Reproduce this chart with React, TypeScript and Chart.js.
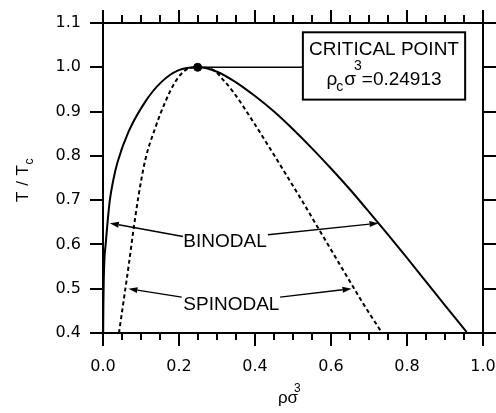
import React, { useEffect, useRef } from 'react';
import { Chart, registerables } from 'chart.js';

Chart.register(...registerables);

// ---- data ----
const binodalRho = [0.0005, 0.001, 0.002, 0.004, 0.007, 0.012, 0.018, 0.027, 0.038, 0.067, 0.111, 0.154, 0.198, 0.24913, 0.30, 0.35, 0.40, 0.45, 0.50, 0.55, 0.60, 0.65, 0.70, 0.75, 0.80, 0.85, 0.90, 0.957];
const binodalT = [0.400, 0.460, 0.520, 0.570, 0.600, 0.650, 0.700, 0.745, 0.785, 0.854, 0.922, 0.967, 0.993, 1.000, 0.990, 0.966, 0.935, 0.900, 0.860, 0.817, 0.7715, 0.724, 0.6735, 0.622, 0.5695, 0.516, 0.4624, 0.402];

const spinodalRho = [0.042, 0.057, 0.068, 0.080, 0.093, 0.111, 0.137, 0.164, 0.190, 0.216, 0.24913, 0.292, 0.317, 0.343, 0.396, 0.440, 0.483, 0.527, 0.580, 0.632, 0.685, 0.733];
const spinodalT = [0.400, 0.489, 0.555, 0.632, 0.707, 0.790, 0.862, 0.922, 0.967, 0.993, 1.000, 0.993, 0.971, 0.944, 0.876, 0.816, 0.756, 0.694, 0.617, 0.542, 0.466, 0.402];

const criticalRho = [0.24913];
const criticalT = [1.0];

const xMajorTicks = [0.0, 0.2, 0.4, 0.6, 0.8, 1.0];
const xMinorTicks = [0.05, 0.1, 0.15, 0.25, 0.3, 0.35, 0.45, 0.5, 0.55, 0.65, 0.7, 0.75, 0.85, 0.9, 0.95];
const yMajorTicks = [0.4, 0.5, 0.6, 0.7, 0.8, 0.9, 1.0, 1.1];

const boxLines = ['CRITICAL POINT', '0.24913'];

// ---- annotation placement (data coordinates) ----
const BOX = { x0: 0.526, x1: 0.953, yTop: 1.079, yBot: 0.927 };
const ARROWS = [
  { from: [0.2105, 0.618], to: [0.018, 0.648] },
  { from: [0.434, 0.622], to: [0.725, 0.648] },
  { from: [0.207, 0.481], to: [0.067, 0.500] },
  { from: [0.466, 0.481], to: [0.654, 0.500] },
];
const LABELS = [
  { text: 'BINODAL', x: 0.2113, y: 0.594 },
  { text: 'SPINODAL', x: 0.2113, y: 0.453 },
];

const SANS = '"Liberation Sans", Arial, Helvetica, sans-serif';
const TICKFONT = '"DejaVu Sans", sans-serif';

const toXY = (xs: number[], ys: number[]) => xs.map((x, i) => ({ x, y: ys[i] }));

const noPad = (s: any) => {
  s.paddingLeft = 0;
  s.paddingRight = 0;
  s.paddingTop = 0;
  s.paddingBottom = 0;
};

const decorPlugin = {
  id: 'decor',
  afterDraw(chart: any) {
    const ctx = chart.ctx as CanvasRenderingContext2D;
    const xs = chart.scales.x;
    const ys = chart.scales.y;
    const area = chart.chartArea;
    ctx.save();
    ctx.strokeStyle = '#000';
    ctx.fillStyle = '#000';

    // minor ticks on x axes
    ctx.lineWidth = 2;
    for (const v of xMinorTicks) {
      const px = Math.round(xs.getPixelForValue(v));
      ctx.beginPath();
      ctx.moveTo(px, area.bottom);
      ctx.lineTo(px, area.bottom + 7);
      ctx.moveTo(px, area.top);
      ctx.lineTo(px, area.top - 8);
      ctx.stroke();
    }

    // connector from critical point to box
    const bx0 = xs.getPixelForValue(BOX.x0);
    const bx1 = xs.getPixelForValue(BOX.x1);
    const by0 = ys.getPixelForValue(BOX.yTop);
    const by1 = ys.getPixelForValue(BOX.yBot);
    const cpx = xs.getPixelForValue(criticalRho[0]);
    const cpy = ys.getPixelForValue(criticalT[0]);
    ctx.lineWidth = 1.5;
    ctx.beginPath();
    ctx.moveTo(cpx, cpy);
    ctx.lineTo(bx0, cpy);
    ctx.stroke();

    // box
    ctx.fillStyle = '#fff';
    ctx.fillRect(bx0, by0, bx1 - bx0, by1 - by0);
    ctx.fillStyle = '#000';
    ctx.lineWidth = 2;
    ctx.strokeRect(bx0, by0, bx1 - bx0, by1 - by0);

    const cx = (bx0 + bx1) / 2;
    ctx.textBaseline = 'alphabetic';
    ctx.textAlign = 'center';
    ctx.font = `19px ${SANS}`;
    ctx.fillText(boxLines[0], cx, by0 + 23);

    // second line: rho_c sigma^3 = value
    ctx.textAlign = 'left';
    const big = `19px ${SANS}`;
    const small = `14px ${SANS}`;
    ctx.font = big;
    const wRho = ctx.measureText('ρ').width;
    const wSig = ctx.measureText('σ').width;
    const wVal = ctx.measureText('=' + boxLines[1]).width;
    ctx.font = small;
    const wC = ctx.measureText('c').width;
    const w3 = ctx.measureText('3').width;
    const total = wRho + wC + wSig + w3 - 2 + wVal;
    let x = cx - total / 2;
    const base = by0 + 53;
    ctx.font = big;
    ctx.fillText('ρ', x, base);
    x += wRho;
    ctx.font = small;
    ctx.fillText('c', x - 1, base + 6);
    x += wC;
    ctx.font = big;
    ctx.fillText('σ', x, base);
    x += wSig;
    ctx.font = small;
    ctx.fillText('3', x - 2, base - 15);
    x += w3 - 2;
    ctx.font = big;
    ctx.fillText('=' + boxLines[1], x, base);

    // arrows
    ctx.lineWidth = 1.4;
    for (const a of ARROWS) {
      const x0 = xs.getPixelForValue(a.from[0]);
      const y0 = ys.getPixelForValue(a.from[1]);
      const x1 = xs.getPixelForValue(a.to[0]);
      const y1 = ys.getPixelForValue(a.to[1]);
      const ang = Math.atan2(y1 - y0, x1 - x0);
      const L = 9, H = 3;
      const hx = x1 - L * Math.cos(ang);
      const hy = y1 - L * Math.sin(ang);
      ctx.beginPath();
      ctx.moveTo(x0, y0);
      ctx.lineTo(hx, hy);
      ctx.stroke();
      ctx.beginPath();
      ctx.moveTo(x1, y1);
      ctx.lineTo(hx + H * Math.sin(ang), hy - H * Math.cos(ang));
      ctx.lineTo(hx - H * Math.sin(ang), hy + H * Math.cos(ang));
      ctx.closePath();
      ctx.fill();
    }

    // labels
    ctx.font = `19px ${SANS}`;
    ctx.textAlign = 'left';
    ctx.textBaseline = 'alphabetic';
    for (const l of LABELS) {
      ctx.fillText(l.text, xs.getPixelForValue(l.x), ys.getPixelForValue(l.y));
    }

    // x axis title: rho sigma^3
    ctx.font = `17px ${SANS}`;
    const wRS = ctx.measureText('ρσ').width;
    const midX = (area.left + area.right) / 2 - 5;
    const tx = midX - wRS / 2;
    ctx.fillText('ρσ', tx, 403);
    ctx.font = `12px ${SANS}`;
    ctx.fillText('3', tx + wRS - 4, 392);

    // y axis title: T / T_c (rotated)
    ctx.save();
    const midY = (area.top + area.bottom) / 2 + 2;
    ctx.font = `17px ${SANS}`;
    (ctx as any).letterSpacing = '0.5px';
    const wT = ctx.measureText('T / T').width;
    ctx.font = `12px ${SANS}`;
    const wc = ctx.measureText('c').width;
    const tot = wT + wc;
    ctx.translate(28, midY + tot / 2);
    ctx.rotate(-Math.PI / 2);
    ctx.font = `17px ${SANS}`;
    ctx.fillText('T / T', 0, 0);
    ctx.font = `12px ${SANS}`;
    ctx.fillText('c', wT, 5);
    ctx.restore();

    ctx.restore();
  },
};

export default function App() {
  const ref = useRef<HTMLCanvasElement | null>(null);

  useEffect(() => {
    if (!ref.current) return;
    const axisCommon = {
      type: 'linear' as const,
      grid: {
        drawOnChartArea: false,
        drawTicks: true,
        tickLength: 13,
        color: '#000',
        lineWidth: 2,
      },
      border: { display: true, color: '#000', width: 2 },
    };
    const chart = new Chart(ref.current, {
      type: 'scatter',
      data: {
        datasets: [
          {
            label: 'Binodal',
            data: toXY(binodalRho, binodalT),
            showLine: true,
            borderColor: '#000',
            borderWidth: 2,
            pointRadius: 0,
            tension: 0.4,
            cubicInterpolationMode: 'monotone',
          },
          {
            label: 'Spinodal',
            data: toXY(spinodalRho, spinodalT),
            showLine: true,
            borderColor: '#000',
            borderWidth: 2,
            borderDash: [4, 3],
            pointRadius: 0,
            tension: 0.4,
            cubicInterpolationMode: 'monotone',
          },
          {
            label: 'Critical point',
            data: toXY(criticalRho, criticalT),
            showLine: false,
            pointRadius: 4,
            pointBackgroundColor: '#000',
            pointBorderColor: '#000',
          },
        ],
      },
      options: {
        responsive: false,
        animation: false,
        layout: { padding: 0 },
        plugins: {
          legend: { display: false },
          tooltip: { enabled: false },
          title: { display: false },
        },
        scales: {
          x: {
            ...axisCommon,
            position: 'bottom',
            min: 0,
            max: 1.0,
            afterBuildTicks: (s: any) => { s.ticks = xMajorTicks.map((v) => ({ value: v })); },
            ticks: {
              color: '#000',
              font: { family: TICKFONT, size: 16 },
              padding: 11,
              maxRotation: 0,
              callback: (v: any) => Number(v).toFixed(1),
            },
            afterFit: (s: any) => { s.height = 80; noPad(s); },
          },
          xTop: {
            ...axisCommon,
            position: 'top',
            min: 0,
            max: 1.0,
            afterBuildTicks: (s: any) => { s.ticks = xMajorTicks.map((v) => ({ value: v })); },
            ticks: { display: false },
            afterFit: (s: any) => { s.height = 23; noPad(s); },
          },
          y: {
            ...axisCommon,
            position: 'left',
            min: 0.4,
            max: 1.1,
            afterBuildTicks: (s: any) => { s.ticks = yMajorTicks.map((v) => ({ value: v })); },
            ticks: {
              color: '#000',
              font: { family: TICKFONT, size: 16 },
              padding: 9,
              callback: (v: any) => Number(v).toFixed(1),
            },
            afterFit: (s: any) => { s.width = 103; noPad(s); },
          },
          yRight: {
            ...axisCommon,
            position: 'right',
            min: 0.4,
            max: 1.1,
            afterBuildTicks: (s: any) => { s.ticks = yMajorTicks.map((v) => ({ value: v })); },
            ticks: { display: false },
            afterFit: (s: any) => { s.width = 13; noPad(s); },
          },
        },
      } as any,
      plugins: [decorPlugin],
    });
    return () => chart.destroy();
  }, []);

  return (
    <div style={{ position: 'absolute', left: 0, top: 0, width: 496, height: 413, background: '#fff' }}>
      <canvas ref={ref} width={496} height={413} />
    </div>
  );
}
